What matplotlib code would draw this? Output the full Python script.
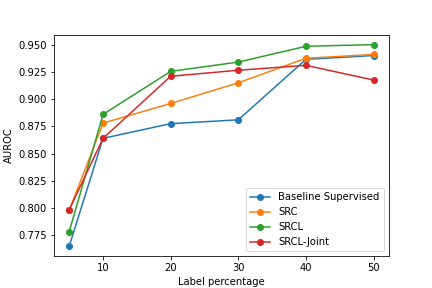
import matplotlib
matplotlib.use('Agg')
import matplotlib.pyplot as plt

label_pct = [5, 10, 20, 30, 40, 50]

baseline = [0.765, 0.864, 0.8775, 0.881, 0.9365, 0.940]
src = [0.798, 0.878, 0.896, 0.915, 0.9375, 0.941]
srcl = [0.7785, 0.886, 0.9255, 0.934, 0.9485, 0.950]
srcl_joint = [0.7985, 0.864, 0.921, 0.9265, 0.931, 0.9175]

plt.figure(figsize=(6, 4), dpi=72)

plt.plot(label_pct, baseline, marker='o', label='Baseline Supervised')
plt.plot(label_pct, src, marker='o', label='SRC')
plt.plot(label_pct, srcl, marker='o', label='SRCL')
plt.plot(label_pct, srcl_joint, marker='o', label='SRCL-Joint')

plt.xlabel('Label percentage')
plt.ylabel('AUROC')
plt.legend(loc='lower right')

plt.savefig('out.png')
